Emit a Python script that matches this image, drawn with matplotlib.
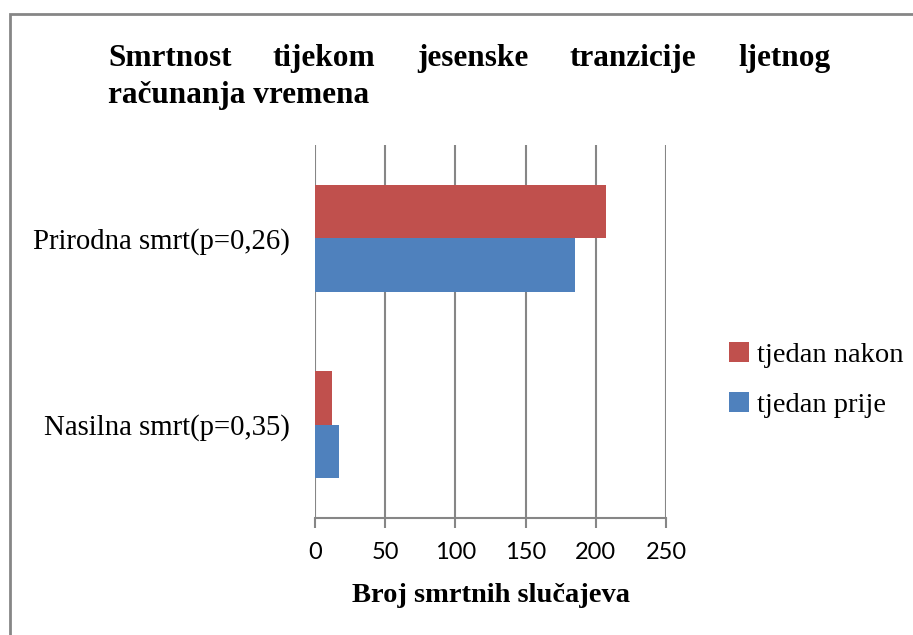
import matplotlib.pyplot as plt
from matplotlib.patches import Rectangle
import numpy as np

# --------------------------------------------------
# Data
# --------------------------------------------------
categories = ["Nasilna smrt(p=0,35)", "Prirodna smrt(p=0,26)"]
tjedan_prije = [17, 185]
tjedan_nakon = [12, 207]
x_ticks = [0, 50, 100, 150, 200, 250]

title_line1 = ["Smrtnost", "tijekom", "jesenske", "tranzicije", "ljetnog"]
title_line2 = "računanja vremena"
xlabel = "Broj smrtnih slučajeva"

RED = "#C0504D"
BLUE = "#4F81BD"
GRID = "#868686"
SERIF = "Liberation Serif"

# --------------------------------------------------
# Figure
# --------------------------------------------------
W, H = 913, 635
fig = plt.figure(figsize=(W / 100, H / 100), dpi=100)
ax = fig.add_axes([315 / W, 1 - 518 / H, (666 - 315) / W, (518 - 145) / H])

y = np.arange(len(categories))
h = 0.287
ax.barh(y - h / 2, tjedan_prije, height=h, color=BLUE, label="tjedan prije", zorder=3)
ax.barh(y + h / 2, tjedan_nakon, height=h, color=RED, label="tjedan nakon", zorder=3)

ax.set_xlim(0, 250)
ax.set_ylim(-0.5, 1.5)
ax.set_xticks(x_ticks)
ax.set_xticklabels([str(t) for t in x_ticks], fontname="Lato", fontsize=17)
ax.set_yticks(y)
ax.set_yticklabels(categories, fontname=SERIF, fontsize=20.7)
ax.tick_params(axis="y", length=0, pad=18)
ax.tick_params(axis="x", length=7, width=1.5, color=GRID, pad=10)

ax.grid(axis="x", color=GRID, linewidth=1.5, zorder=0)
for s in ["top", "right", "left"]:
    ax.spines[s].set_visible(False)
ax.spines["bottom"].set_color(GRID)
ax.spines["bottom"].set_linewidth(1.5)

ax.set_xlabel(xlabel, fontname=SERIF, fontweight="bold", fontsize=20.5, labelpad=15)

# legend
handles, labels = ax.get_legend_handles_labels()
fig.legend(handles[::-1], labels[::-1], loc="center left",
           bbox_to_anchor=(703 / W, 1 - 380 / H), frameon=False,
           prop={"family": SERIF, "size": 20.5}, handlelength=0.7,
           handleheight=0.7, handletextpad=0.3, labelspacing=0.85)

# outer frame (only top and left edge visible in picture)
fig.patches.append(Rectangle((9.5 / W, -0.1), 1.2, 1 - 13.5 / H + 0.1,
                             transform=fig.transFigure, fill=False,
                             edgecolor=GRID, linewidth=2))

# --------------------------------------------------
# Title, justified first line
# --------------------------------------------------
tkw = dict(fontname=SERIF, fontweight="bold", fontsize=22.5, va="baseline")
y1 = 1 - 66 / H
y2 = 1 - 103 / H
left, right = 108, 830
texts = [fig.text(0, y1, w, ha="left", **tkw) for w in title_line1]
fig.canvas.draw()
r = fig.canvas.get_renderer()
widths = [t.get_window_extent(r).width for t in texts]
gap = (right - left - sum(widths)) / (len(widths) - 1)
xpos = left
for t, w in zip(texts, widths):
    t.set_x(xpos / W)
    xpos += w + gap
fig.text(left / W, y2, title_line2, ha="left", **tkw)

fig.savefig("out.png", dpi=100)
